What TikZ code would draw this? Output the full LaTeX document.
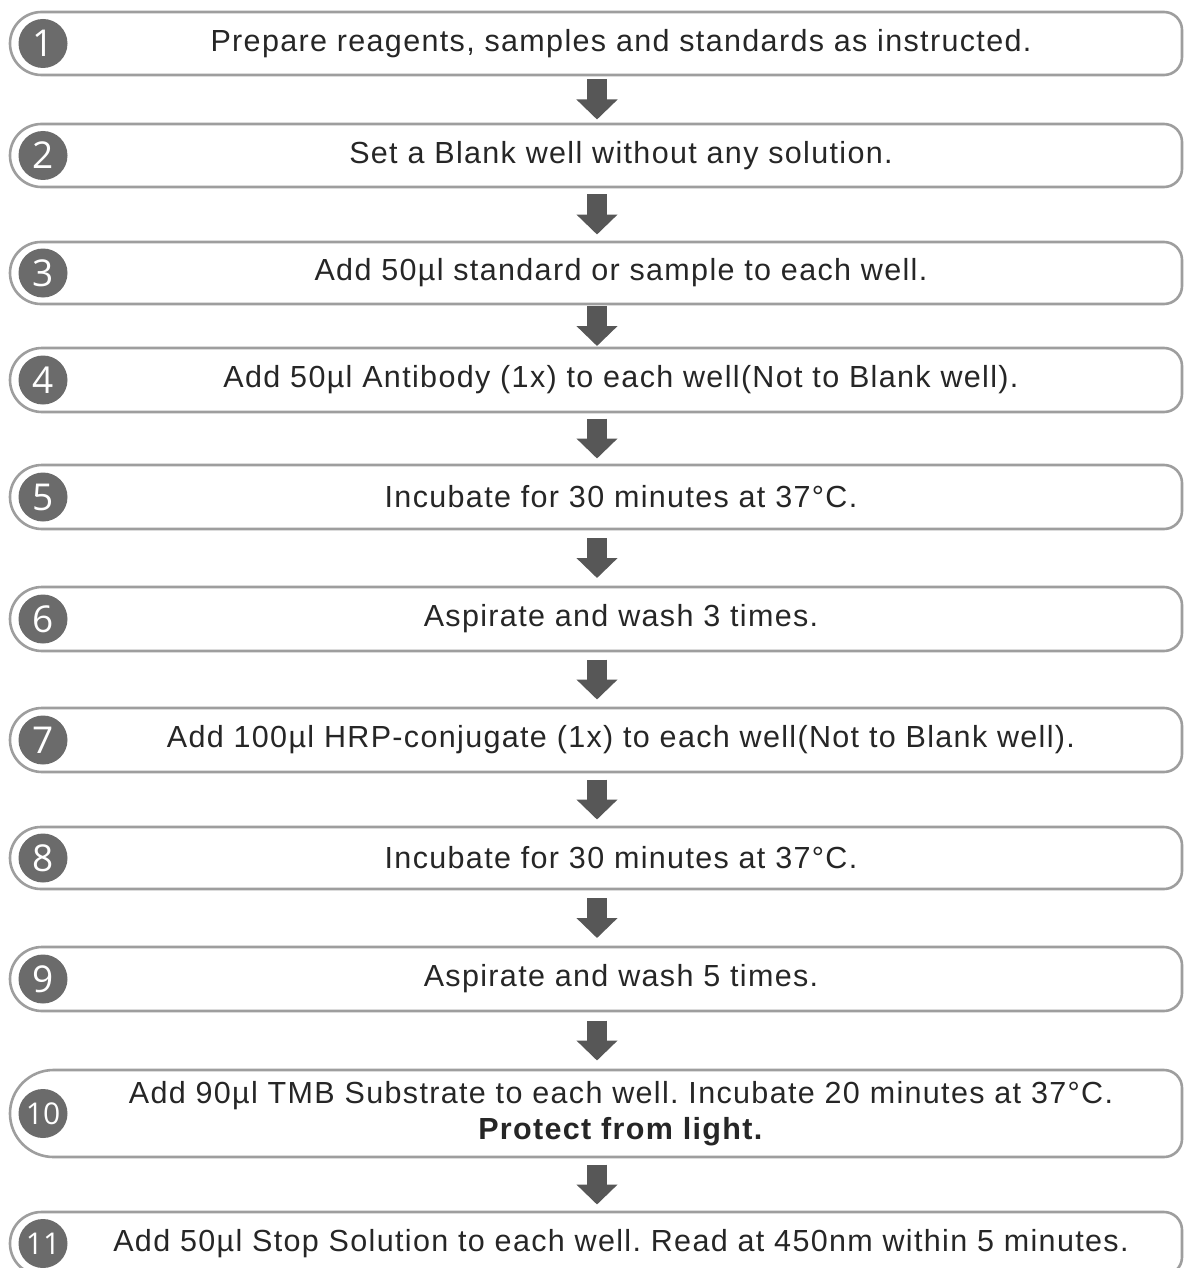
\documentclass[tikz,border=0pt]{standalone}
\usepackage{fontspec}
\setmainfont{Liberation Sans}[LetterSpace=4.4]
\newfontfamily\numfont{Open Sans}
\usetikzlibrary{arrows.meta,calc}
\frenchspacing
\definecolor{boxgray}{HTML}{9E9E9E}
\definecolor{circgray}{HTML}{6B6B6B}
\definecolor{arrowgray}{HTML}{575757}
\definecolor{txtgray}{HTML}{262626}
\tikzset{
  boxline/.style={draw=boxgray, line width=2.6pt, fill=white},
  steptext/.style={text=txtgray, font=\fontsize{30.5}{36}\selectfont, align=center, inner sep=0pt},
  numcirc/.style={circle, fill=circgray, minimum size=49pt, inner sep=0pt, text=white, font=\numfont\fontsize{37}{37}\selectfont},
  numcircsmall/.style={numcirc, font=\numfont\fontsize{30}{30}\selectfont},
  flowarrow/.style={draw=arrowgray, line width=20pt, -{Triangle[length=20pt, width=40pt]}, arrowgray}
}
% #1 name, #2 top, #3 bottom, #4 number, #5 circle style, #6 text
\newcommand{\stepbox}[6]{%
  \pgfmathsetmacro{\rr}{(#3-#2)/2}%
  \pgfmathsetmacro{\cy}{-(#2+#3)/2}%
  \draw[boxline] (10+\rr,-#2) -- (1164,-#2) arc[start angle=90, end angle=0, radius=18]
     -- (1182,-#3+18) arc[start angle=0, end angle=-90, radius=18]
     -- (10+\rr,-#3) arc[start angle=270, end angle=90, radius=\rr] -- cycle;
  \node[#5] (#1-n) at (43,\cy) {#4};
  \node[steptext] (#1) at (621,\cy) {#6};
  \coordinate (#1-t) at (597,-#2);
  \coordinate (#1-b) at (597,-#3);
}
\newcommand{\flowarr}[2]{%
  \draw[flowarrow] ($(#1-b)!0.5!(#2-t)+(0,20)$) -- ($(#1-b)!0.5!(#2-t)-(0,20)$);
}
\begin{document}
\begin{tikzpicture}[x=1pt,y=1pt]
\useasboundingbox (0,0) rectangle (1184,-1268);
\clip (0,0) rectangle (1184,-1268);
\fill[white] (0,0) rectangle (1184,-1268);
\stepbox{s1}{12}{75}{1}{numcirc}{Prepare reagents, samples and standards as instructed.}
\stepbox{s2}{124}{187}{2}{numcirc}{Set a Blank well without any solution.}
\stepbox{s3}{242}{304}{3}{numcirc}{Add 50µl standard or sample to each well.}
\stepbox{s4}{348}{412}{4}{numcirc}{Add 50µl Antibody (1x) to each well(Not to Blank well).}
\stepbox{s5}{465}{529}{5}{numcirc}{Incubate for 30 minutes at 37°C.}
\stepbox{s6}{587}{651}{6}{numcirc}{Aspirate and wash 3 times.}
\stepbox{s7}{708}{772}{7}{numcirc}{Add 100µl HRP-conjugate (1x) to each well(Not to Blank well).}
\stepbox{s8}{827}{889}{8}{numcirc}{Incubate for 30 minutes at 37°C.}
\stepbox{s9}{947}{1011}{9}{numcirc}{Aspirate and wash 5 times.}
\stepbox{s10}{1070}{1157}{10}{numcircsmall}{Add 90µl TMB Substrate to each well. Incubate 20 minutes at 37°C.\\\textbf{Protect from light.}}
\stepbox{s11}{1212}{1275}{11}{numcircsmall}{Add 50µl Stop Solution to each well. Read at 450nm within 5 minutes.}
\flowarr{s1}{s2}
\flowarr{s2}{s3}
\flowarr{s3}{s4}
\flowarr{s4}{s5}
\flowarr{s5}{s6}
\flowarr{s6}{s7}
\flowarr{s7}{s8}
\flowarr{s8}{s9}
\flowarr{s9}{s10}
\flowarr{s10}{s11}
\end{tikzpicture}
\end{document}
